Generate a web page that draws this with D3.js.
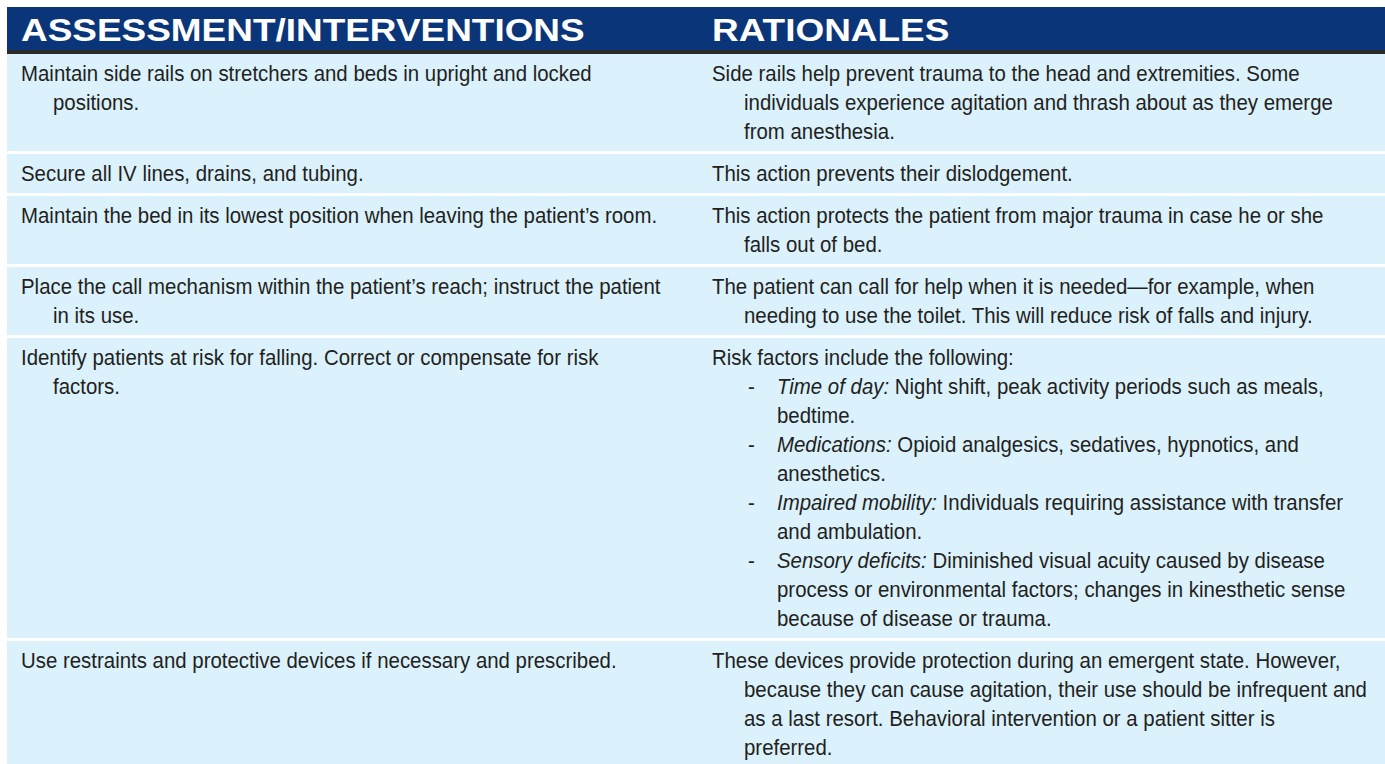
<!DOCTYPE html>
<html>
<head>
<meta charset="utf-8">
<script src="https://cdn.jsdelivr.net/npm/d3@7"></script>
<style>
  html, body { margin: 0; padding: 0; background: #ffffff; }
  svg { display: block; }
</style>
</head>
<body>
<svg id="chart" width="1385" height="764"></svg>
<script>
// ---------- DATA ----------
const headers = ["ASSESSMENT/INTERVENTIONS", "RATIONALES"];

const interventions = [
  ["Maintain side rails on stretchers and beds in upright and locked", "positions."],
  ["Secure all IV lines, drains, and tubing."],
  ["Maintain the bed in its lowest position when leaving the patient\u2019s room."],
  ["Place the call mechanism within the patient\u2019s reach; instruct the patient", "in its use."],
  ["Identify patients at risk for falling. Correct or compensate for risk", "factors."],
  ["Use restraints and protective devices if necessary and prescribed."]
];

const rationales = [
  ["Side rails help prevent trauma to the head and extremities. Some", "individuals experience agitation and thrash about as they emerge", "from anesthesia."],
  ["This action prevents their dislodgement."],
  ["This action protects the patient from major trauma in case he or she", "falls out of bed."],
  ["The patient can call for help when it is needed\u2014for example, when", "needing to use the toilet. This will reduce risk of falls and injury."],
  ["Risk factors include the following:"],
  ["These devices provide protection during an emergent state. However,", "because they can cause agitation, their use should be infrequent and", "as a last resort. Behavioral intervention or a patient sitter is", "preferred."]
];

// bullet list that belongs to the 5th rationale
const riskRow = 4;
const riskLabels = ["Time of day:", "Medications:", "Impaired mobility:", "Sensory deficits:"];
const riskTexts = [
  [" Night shift, peak activity periods such as meals,", "bedtime."],
  [" Opioid analgesics, sedatives, hypnotics, and", "anesthetics."],
  [" Individuals requiring assistance with transfer", "and ambulation."],
  [" Diminished visual acuity caused by disease", "process or environmental factors; changes in kinesthetic sense", "because of disease or trauma."]
];

// ---------- LAYOUT / STYLE ----------
const tableX = 7, tableR = 1385;
const headTop = 7, headH = 44, ruleH = 3;
const colX = [21, 712];
const indent = 32;
const dashX = 748, bulletX = 777;
const lineH = 29, padTop = 5, padBot = 5, sepH = 3;
const fontSize = 22;
const baseOff = 22;
const textColor = "#231f20";

const svg = d3.select("#chart");

function measure(str, size, weight, family, style) {
  const t = svg.append("text").attr("font-size", size).attr("font-weight", weight || "normal")
    .attr("font-family", family).attr("font-style", style || "normal").text(str);
  const w = t.node().getComputedTextLength();
  t.remove();
  return w;
}
const bodyFamily = "'Liberation Sans', Arial, Helvetica, sans-serif";
const refW = measure(rationales[5][1], fontSize, "normal", bodyFamily);
const sx = 623 / refW;

const headFamily = "'Liberation Sans', Arial, Helvetica, sans-serif";
const headSize = 32;
const headRef = measure(headers[0], headSize, "bold", headFamily);
const hsx = 564 / headRef;

const rowLines = interventions.map((d, i) => {
  let r = rationales[i].length;
  if (i === riskRow) r += d3.sum(riskTexts, t => t.length);
  return Math.max(d.length, r);
});
const rowTops = [];
let y = headTop + headH + ruleH;
rowLines.forEach((n, i) => {
  rowTops.push(y);
  y += padTop + n * lineH + padBot + sepH;
});

// header
svg.append("rect").attr("x", tableX).attr("y", headTop).attr("width", tableR - tableX).attr("height", headH)
  .attr("fill", "#0b3579");
svg.append("rect").attr("x", tableX).attr("y", headTop + headH - 1).attr("width", tableR - tableX).attr("height", ruleH + 1)
  .attr("fill", "#2b2b2b");
headers.forEach((h, i) => {
  svg.append("text")
    .attr("transform", `translate(${colX[i]},${headTop + 34}) scale(${hsx},1)`)
    .attr("font-family", headFamily).attr("font-weight", "bold").attr("font-size", headSize)
    .attr("fill", "#ffffff").text(h);
});

// row backgrounds
svg.selectAll("rect.row").data(rowLines).join("rect").attr("class", "row")
  .attr("x", tableX).attr("width", tableR - tableX)
  .attr("y", (d, i) => rowTops[i])
  .attr("height", (d, i) => padTop + d * lineH + padBot)
  .attr("fill", "#dbf1fc");

function line(x, yy, parts) {
  const t = svg.append("text")
    .attr("transform", `translate(${x},${yy}) scale(${sx},1)`)
    .attr("font-family", bodyFamily).attr("font-size", fontSize).attr("fill", textColor);
  parts.forEach(p => {
    t.append("tspan").attr("font-style", p.italic ? "italic" : "normal").text(p.text);
  });
  return t;
}

interventions.forEach((lines, i) => {
  const top = rowTops[i] + padTop + baseOff;
  lines.forEach((s, j) => line(colX[0] + (j ? indent : 0), top + j * lineH, [{ text: s }]));
});

rationales.forEach((lines, i) => {
  const top = rowTops[i] + padTop + baseOff;
  lines.forEach((s, j) => line(colX[1] + (j ? indent : 0), top + j * lineH, [{ text: s }]));
  if (i === riskRow) {
    let k = lines.length;
    riskTexts.forEach((txt, b) => {
      line(dashX, top + k * lineH, [{ text: "-" }]);
      txt.forEach((s, j) => {
        const parts = j === 0 ? [{ text: riskLabels[b], italic: true }, { text: s }] : [{ text: s }];
        line(bulletX, top + k * lineH, parts);
        k++;
      });
    });
  }
});
</script>
</body>
</html>
